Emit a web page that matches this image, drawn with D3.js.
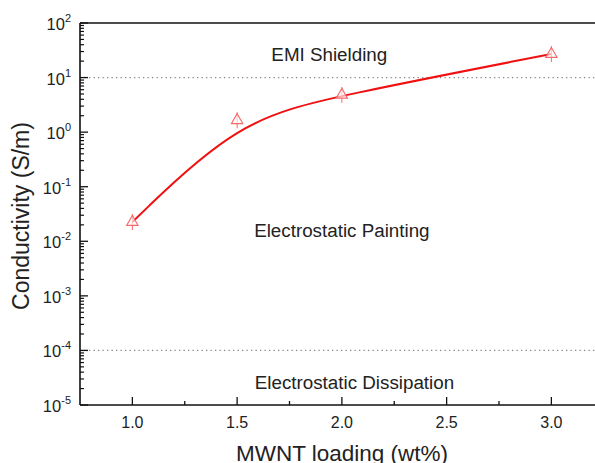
<!DOCTYPE html>
<html>
<head>
<meta charset="utf-8">
<script src="https://cdn.jsdelivr.net/npm/d3@7"></script>
<style>
  body { margin: 0; background: #fff; }
  text { font-family: "Liberation Sans", Arial, sans-serif; fill: #222; }
</style>
</head>
<body>
<script>
// data
var loading = [1.0, 1.5, 2.0, 3.0];
var conductivity = [0.0225, 1.65, 4.8, 27];
var xTicks = [1.0, 1.5, 2.0, 2.5, 3.0];
var yExps = [-5, -4, -3, -2, -1, 0, 1, 2];
var thresholds = [10, 1e-4];
var regions = [
    { label: 'EMI Shielding', x: 1.94, y: 20 },
    { label: 'Electrostatic Painting', x: 2.0, y: 0.012 },
    { label: 'Electrostatic Dissipation', x: 2.06, y: 2.0e-5 }
];

var svg = d3.select('body').append('svg')
    .attr('width', 595)
    .attr('height', 463);

var margin = { top: 23, left: 80, bottom: 405 };

var x = d3.scaleLinear()
    .domain([0.75, 3.25])
    .range([margin.left, margin.left + 523.75]);

var y = d3.scaleLog()
    .domain([1e-5, 1e2])
    .range([margin.bottom, margin.top]);

// dotted threshold lines
svg.selectAll('.thr')
    .data(thresholds)
    .enter().append('line')
    .attr('class', 'thr')
    .attr('x1', margin.left)
    .attr('x2', 595)
    .attr('y1', d => y(d))
    .attr('y2', d => y(d))
    .attr('stroke', '#888')
    .attr('stroke-width', 1.3)
    .attr('stroke-dasharray', '1.3,3.2');

// frame: top line
svg.append('line')
    .attr('x1', margin.left).attr('x2', 595)
    .attr('y1', margin.top).attr('y2', margin.top)
    .attr('stroke', '#111').attr('stroke-width', 1.6);

// x axis
var xAxis = svg.append('g')
    .attr('transform', 'translate(0,' + margin.bottom + ')');
xAxis.append('line')
    .attr('x1', margin.left).attr('x2', 595)
    .attr('stroke', '#111').attr('stroke-width', 1.6);

var xMinor = d3.range(1.25, 3.2, 0.5);
xAxis.selectAll('.xmin')
    .data(xMinor)
    .enter().append('line')
    .attr('x1', d => x(d)).attr('x2', d => x(d))
    .attr('y1', 0).attr('y2', -4)
    .attr('stroke', '#111').attr('stroke-width', 1.3);

xAxis.selectAll('.xmaj')
    .data(xTicks)
    .enter().append('line')
    .attr('x1', d => x(d)).attr('x2', d => x(d))
    .attr('y1', 0).attr('y2', -8)
    .attr('stroke', '#111').attr('stroke-width', 1.3);

xAxis.selectAll('.xlab')
    .data(xTicks)
    .enter().append('text')
    .attr('x', d => x(d))
    .attr('y', 23)
    .attr('text-anchor', 'middle')
    .style('font-size', '16px')
    .text(d => d3.format('.1f')(d));

// y axis
var yAxis = svg.append('g')
    .attr('transform', 'translate(' + margin.left + ',0)');
yAxis.append('line')
    .attr('y1', margin.top).attr('y2', margin.bottom)
    .attr('stroke', '#111').attr('stroke-width', 1.6);

var yMinor = [];
yExps.slice(0, -1).forEach(e => {
    for (var k = 2; k <= 9; k++) yMinor.push(k * Math.pow(10, e));
});
yAxis.selectAll('.ymin')
    .data(yMinor)
    .enter().append('line')
    .attr('x1', 0).attr('x2', 4)
    .attr('y1', d => y(d)).attr('y2', d => y(d))
    .attr('stroke', '#111').attr('stroke-width', 1.2);

yAxis.selectAll('.ymaj')
    .data(yExps)
    .enter().append('line')
    .attr('x1', 0).attr('x2', 8)
    .attr('y1', d => y(Math.pow(10, d))).attr('y2', d => y(Math.pow(10, d)))
    .attr('stroke', '#111').attr('stroke-width', 1.3);

var ylab = yAxis.selectAll('.ylab')
    .data(yExps)
    .enter().append('text')
    .attr('x', -9)
    .attr('y', d => y(Math.pow(10, d)) + 7)
    .attr('text-anchor', 'end')
    .style('font-size', '16.5px');
ylab.append('tspan').text('10');
ylab.append('tspan')
    .attr('dy', -8)
    .style('font-size', '11px')
    .text(d => d);

// axis titles
svg.append('text')
    .attr('x', 342)
    .attr('y', 461)
    .attr('text-anchor', 'middle')
    .style('font-size', '22.5px')
    .text('MWNT loading (wt%)');

svg.append('text')
    .attr('transform', 'translate(29,216) rotate(-90)')
    .attr('text-anchor', 'middle')
    .style('font-size', '23px')
    .text('Conductivity (S/m)');

// region labels
svg.selectAll('.reg')
    .data(regions)
    .enter().append('text')
    .attr('x', d => x(d.x))
    .attr('y', d => y(d.y))
    .attr('text-anchor', 'middle')
    .style('font-size', '18.8px')
    .text(d => d.label);

// fitted curve
var pts = loading.map((d, i) => [d, conductivity[i]]);
var line = d3.line()
    .x(d => x(d[0]))
    .y(d => y(d[1]))
    .curve(d3.curveBasis);

svg.append('path')
    .datum(pts)
    .attr('d', line)
    .attr('fill', 'none')
    .attr('stroke', '#f01010')
    .attr('stroke-width', 2);

// markers: open triangle with a small error bar
var mk = svg.selectAll('.mk')
    .data(pts)
    .enter().append('g')
    .attr('transform', d => 'translate(' + x(d[0]) + ',' + y(d[1]) + ')');
mk.append('line')
    .attr('y1', -8).attr('y2', 8)
    .attr('stroke', '#f56b6b').attr('stroke-width', 1);
mk.append('path')
    .attr('d', d3.symbol().type(d3.symbolTriangle).size(55))
    .attr('fill', '#fff')
    .attr('fill-opacity', 0.6)
    .attr('stroke', '#f56b6b')
    .attr('stroke-width', 1.2);
</script>
</body>
</html>
